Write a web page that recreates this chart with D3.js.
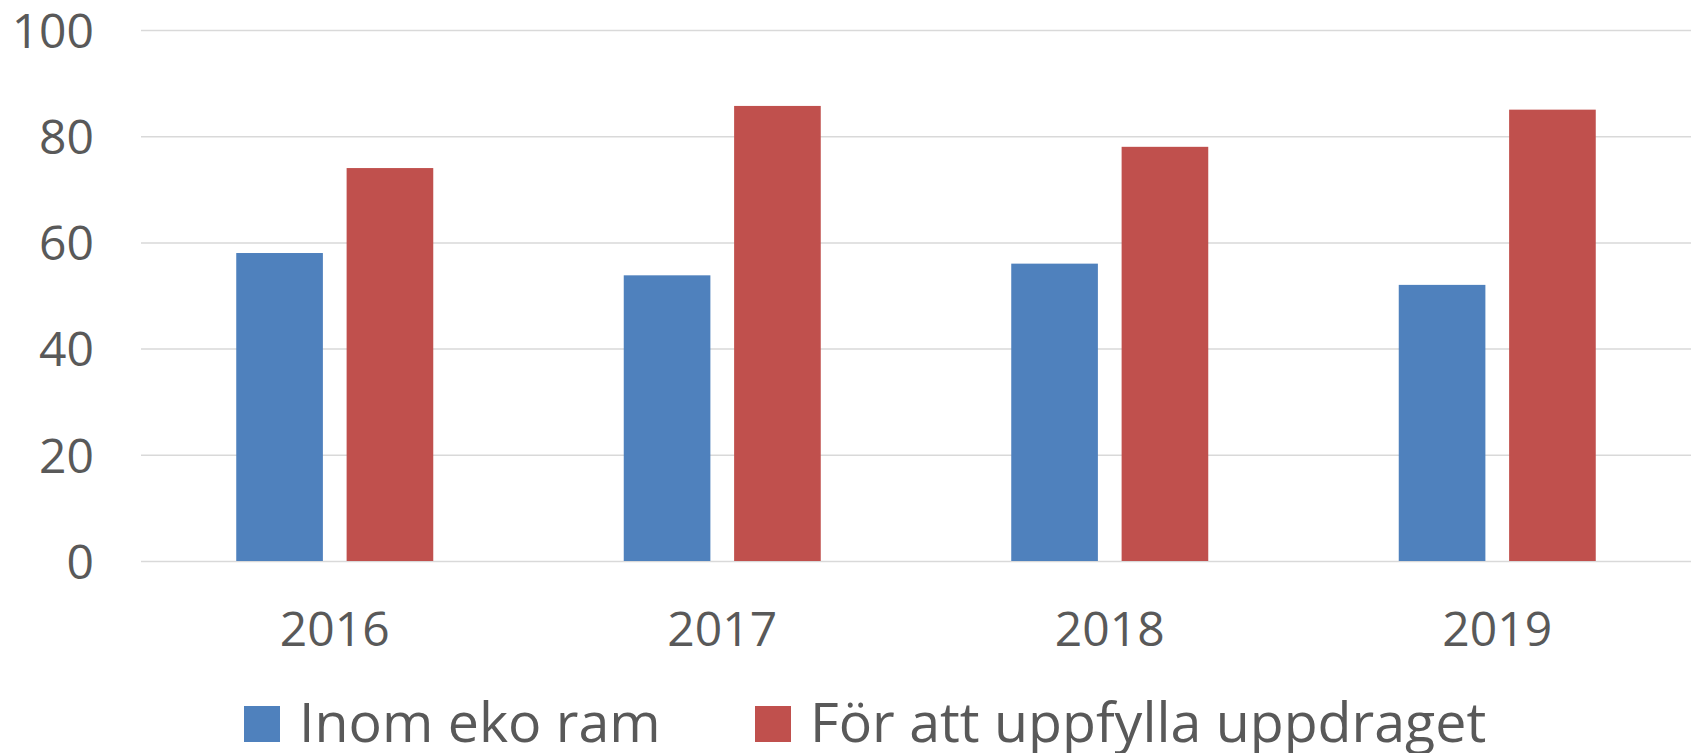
<!DOCTYPE html>
<html>
<head>
<meta charset="utf-8">
<script src="https://cdn.jsdelivr.net/npm/d3@7"></script>
<style>
  html, body { margin: 0; padding: 0; background: #ffffff; }
  svg { display: block; }
  text { font-family: "Open Sans", sans-serif; fill: #595959; }
</style>
</head>
<body>
<svg id="chart" width="1696" height="753"></svg>
<script>
const categories = ["2016", "2017", "2018", "2019"];
const seriesNames = ["Inom eko ram", "För att uppfylla uppdraget"];
const inomEkoRam = [58, 53.8, 56, 52];
const forAttUppfylla = [74, 85.7, 78, 85];
const yTicks = [0, 20, 40, 60, 80, 100];
const colors = ["#4F81BD", "#C0504D"];

const seriesValues = [inomEkoRam, forAttUppfylla];
const rows = categories.map((c, i) => ({ cat: c, values: seriesValues.map((s, j) => ({ key: seriesNames[j], value: s[i], idx: j })) }));

const svg = d3.select("#chart");
const plot = { left: 141, right: 1691, top: 30, bottom: 561 };

const y = d3.scaleLinear().domain([0, 100]).range([plot.bottom, plot.top]);
const x0 = d3.scaleBand().domain(categories).range([plot.left, plot.right]).paddingInner(0).paddingOuter(0);
const groupW = x0.bandwidth() * 0.5084;
const x1 = d3.scaleBand().domain(seriesNames)
  .range([(x0.bandwidth() - groupW) / 2, (x0.bandwidth() + groupW) / 2])
  .paddingInner(0.215).paddingOuter(0);

// gridlines
const yAxis = d3.axisLeft(y).tickValues(yTicks).tickSize(-(plot.right - plot.left)).tickPadding(47).tickFormat(d3.format("d"));
const gy = svg.append("g").attr("transform", `translate(${plot.left},0)`).call(yAxis);
gy.select(".domain").remove();
gy.selectAll(".tick line").attr("stroke", "#D9D9D9").attr("stroke-width", 1.5);
gy.selectAll(".tick text").attr("font-size", 48).attr("fill", "#595959").attr("dy", "0.36em")
  .attr("font-family", "'Open Sans', sans-serif");

// bars
const groups = svg.append("g").selectAll("g").data(rows).join("g")
  .attr("transform", d => `translate(${x0(d.cat)},0)`);
groups.selectAll("rect").data(d => d.values).join("rect")
  .attr("x", d => x1(d.key))
  .attr("width", x1.bandwidth())
  .attr("y", d => y(d.value))
  .attr("height", d => y(0) - y(d.value))
  .attr("fill", d => colors[d.idx]);

// x axis labels
const xAxis = d3.axisBottom(x0).tickSize(0).tickPadding(0);
const gx = svg.append("g").attr("transform", `translate(0,${plot.bottom})`).call(xAxis);
gx.select(".domain").remove();
gx.selectAll(".tick text").attr("font-size", 48).attr("fill", "#595959")
  .attr("font-family", "'Open Sans', sans-serif").attr("y", 85).attr("dy", 0);

// legend
const legendX = [244, 755];
const leg = svg.append("g").selectAll("g").data(seriesNames).join("g")
  .attr("transform", (d, i) => `translate(${legendX[i]},0)`);
leg.append("rect").attr("x", 0).attr("y", 706).attr("width", 36).attr("height", 36)
  .attr("fill", (d, i) => colors[i]);
leg.append("text").attr("x", 55).attr("y", 742).attr("font-size", 55.5).text(d => d);
</script>
</body>
</html>
